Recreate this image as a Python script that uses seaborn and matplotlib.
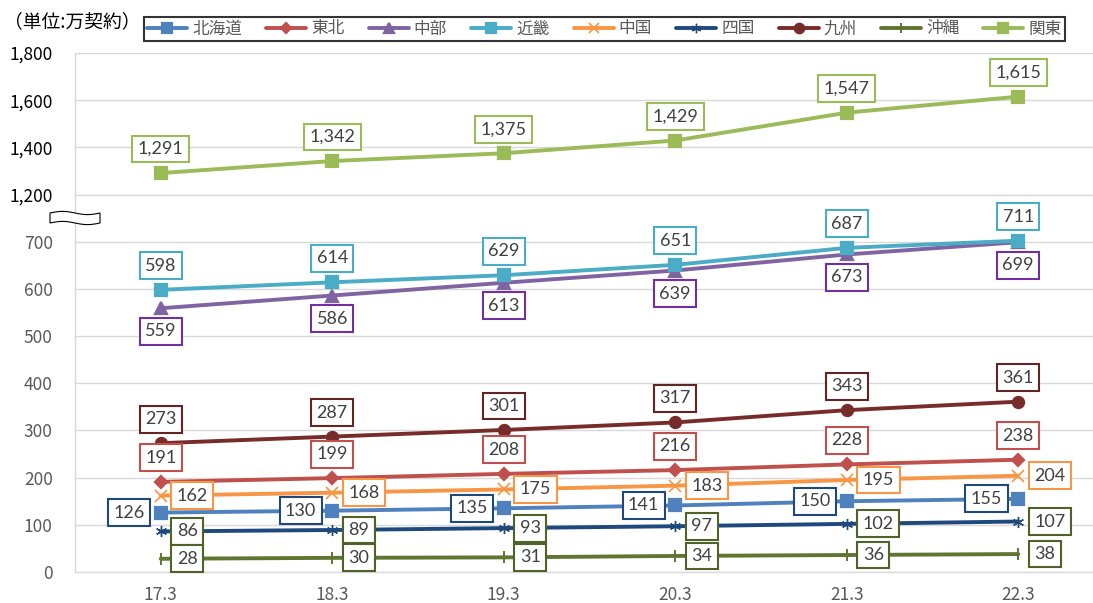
import numpy as np
import pandas as pd
import matplotlib
matplotlib.use('Agg')
import matplotlib.pyplot as plt
import seaborn as sns
from matplotlib.patches import Polygon
from matplotlib.lines import Line2D

# ---------------- data ----------------
periods = ['17.3', '18.3', '19.3', '20.3', '21.3', '22.3']
series_names = ['北海道', '東北', '中部', '近畿', '中国', '四国', '九州', '沖縄', '関東']
hokkaido = [126, 130, 135, 141, 150, 155]
tohoku = [191, 199, 208, 216, 228, 238]
chubu = [559, 586, 613, 639, 673, 699]
kinki = [598, 614, 629, 651, 687, 711]
chugoku = [162, 168, 175, 183, 195, 204]
shikoku = [86, 89, 93, 97, 102, 107]
kyushu = [273, 287, 301, 317, 343, 361]
okinawa = [28, 30, 31, 34, 36, 38]
kanto = [1291, 1342, 1375, 1429, 1547, 1615]
series_values = [hokkaido, tohoku, chubu, kinki, chugoku, shikoku, kyushu, okinawa, kanto]
y_ticks = [0, 100, 200, 300, 400, 500, 600, 700, 1200, 1400, 1600, 1800]

# ---------------- styles ----------------
line_colors = ['#4F81BD', '#C0504D', '#8064A2', '#4BACC6', '#F79646',
               '#1F497D', '#772C2A', '#5F7530', '#9BBB59']
box_colors = ['#1F497D', '#C0504D', '#7030A0', '#4BACC6', '#F79646',
              '#4F6228', '#632523', '#4F6228', '#9BBB59']
markers = ['s', 'D', '^', 's', 'x', (6, 2, 0), 'o', '|', 's']
msizes = [8, 6, 8, 8, 8, 8, 8, 9, 8]
medge = [1.6, 1.6, 1.6, 1.6, 1.2, 1.0, 1.6, 1.4, 1.6]
label_pos = ['left', 'above', 'below', 'above', 'right', 'right', 'above', 'right', 'above']

sns.set_theme(style='white')
plt.rcParams['font.family'] = ['Noto Sans CJK JP', 'DejaVu Sans']

W, H = 1093, 603
fig = plt.figure(figsize=(W / 100, H / 100), dpi=100)
ax = fig.add_axes([75 / W, 31 / H, (W - 75) / W, (572 - 53) / H])


def fwd(v):
    v = np.asarray(v, dtype=float)
    return np.where(v <= 700, v,
                    np.where(v <= 1200, 700 + (v - 700) * 0.2, 800 + (v - 1200) * 0.5))


def inv(u):
    u = np.asarray(u, dtype=float)
    return np.where(u <= 700, u,
                    np.where(u <= 800, 700 + (u - 700) * 5.0, 1200 + (u - 800) * 2.0))


ax.set_yscale('function', functions=(fwd, inv))

x = np.arange(len(periods))
for name, vals, c, m, ms, mew in zip(series_names, series_values, line_colors, markers, msizes, medge):
    df = pd.DataFrame({'x': x, 'y': vals})
    sns.lineplot(data=df, x='x', y='y', ax=ax, color=c, marker=m, markersize=ms,
                 markeredgecolor=c, markeredgewidth=mew, linewidth=2.8, zorder=3)

# axes styling (ticks first, limits afterwards)
ax.set_yticks(y_ticks)
ax.set_yticklabels([f'{t:,}' for t in y_ticks])
for t, lab in zip(y_ticks, ax.get_yticklabels()):
    lab.set_color('#000000' if t >= 1200 else '#595959')
ax.set_xticks(x)
ax.set_xticklabels(periods, color='#595959')
ax.set_xticks(np.arange(-0.5, 6, 1), minor=True)
ax.set_xlim(-0.5, 5.5 - 11 / 171.6)
ax.set_ylim(0, 1800)
ax.tick_params(axis='x', which='major', length=0, pad=10, labelsize=12.5)
ax.tick_params(axis='x', which='minor', length=5, width=1, color='#D9D9D9', direction='out')
ax.tick_params(axis='y', which='both', length=0, pad=16, labelsize=12.5)
ax.yaxis.grid(True, color='#D9D9D9', linewidth=1)
ax.xaxis.grid(False)
ax.set_xlabel('')
ax.set_ylabel('')
for s in ['top', 'right']:
    ax.spines[s].set_visible(False)
for s in ['left', 'bottom']:
    ax.spines[s].set_color('#D9D9D9')
    ax.spines[s].set_linewidth(1)

# data labels
px = 0.72  # points per pixel
for vals, bc, pos in zip(series_values, box_colors, label_pos):
    for xi, v in zip(x, vals):
        if pos == 'above':
            off, ha = (0, 24 * px), 'center'
        elif pos == 'below':
            off, ha = (0, -23 * px), 'center'
        elif pos == 'right':
            off, ha = (16 * px, 0), 'left'
        else:
            off, ha = (-16 * px, 0), 'right'
        ax.annotate(f'{v:,}', (xi, v), xytext=off, textcoords='offset points',
                    ha=ha, va='center', fontsize=13, color='#404040',
                    family=['Lato', 'DejaVu Sans'], zorder=5,
                    bbox=dict(boxstyle='square,pad=0.3', fc='white', ec=bc, lw=1.5))

# axis break marker
xs = np.linspace(50, 100, 40)
top = 213 - 1.6 * np.sin(2 * np.pi * (xs - 50) / 50)
bot = top + 10
pts = [(xx / W, 1 - yy / H) for xx, yy in zip(xs, top)] + \
      [(xx / W, 1 - yy / H) for xx, yy in zip(xs[::-1], bot[::-1])]
fig.patches.append(Polygon(pts, closed=True, fc='white', ec='black', lw=0.8,
                           transform=fig.transFigure, zorder=10))

# legend
handles = [Line2D([0], [0], color=c, marker=m, markersize=ms * 0.85, markeredgecolor=c,
                  markeredgewidth=mew, linewidth=2.8)
           for c, m, ms, mew in zip(line_colors, markers, msizes, medge)]
leg = fig.legend(handles, series_names, loc='center', bbox_to_anchor=(604.5 / W, 1 - 29 / H),
                 ncol=9, frameon=True, fancybox=False, edgecolor='black', fontsize=12,
                 handlelength=2.4, columnspacing=1.45, handletextpad=0.3, borderpad=0.22)
leg.get_frame().set_linewidth(1.5)
for t in leg.get_texts():
    t.set_color('#595959')

fig.text(4 / W, 1 - 22 / H, '（単位:万契約）', va='center', ha='left', fontsize=13.5, color='#000000')

fig.savefig('out.png', dpi=100)
